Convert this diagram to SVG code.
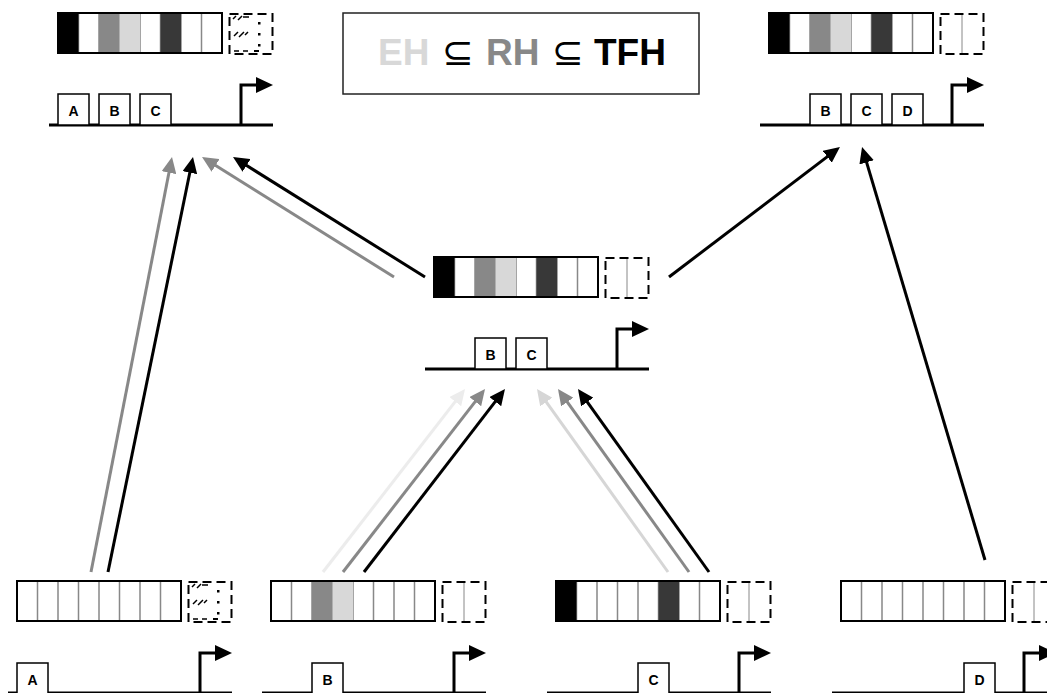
<svg xmlns="http://www.w3.org/2000/svg" xmlns:xlink="http://www.w3.org/1999/xlink" width="1047" height="693" viewBox="0 0 1047 693">
  <style>
    .bg { fill: #fff; }
    .divider { stroke: #888; stroke-width: 1.5; }
    .bar-outline { fill: none; stroke: #000; stroke-width: 2; }
    .dash { fill: #fff; stroke: #000; stroke-width: 2; stroke-dasharray: 9 5; }
    .dash-mid { stroke: #888; stroke-width: 1; }
    .hatch { stroke: #000; stroke-width: 1.5; fill: none; }
    .dna { stroke: #000; stroke-width: 3; fill: none; }
    .prom { stroke: #000; stroke-width: 3; fill: none; }
    .gene rect { fill: #fff; stroke: #000; stroke-width: 1.5; }
    .gene text { font-family: "Liberation Sans", Arial, sans-serif; font-weight: bold; font-size: 14px; text-anchor: middle; fill: #000; }
    .k { fill: #000; } .g { fill: #888; } .l { fill: #d8d8d8; } .d { fill: #383838; }
    .conn line { stroke-width: 3; fill: none; }
    .title-box { fill: #fff; stroke: #222; stroke-width: 1.5; }
    .title { font-family: "Liberation Sans", Arial, sans-serif; font-weight: bold; font-size: 37px; }
    .subset { font-family: "DejaVu Sans", sans-serif; font-weight: normal; font-size: 38px; fill: #000; }
  </style>
  <defs>
    <!-- arrowheads, one per stroke colour -->
    <marker id="ah-k" viewBox="0 0 16 15" markerWidth="16" markerHeight="15" markerUnits="userSpaceOnUse" refX="6" refY="7.5" orient="auto"><path d="M0,0 L16,7.5 L0,15 z" fill="#000"/></marker>
    <marker id="ah-g" viewBox="0 0 16 15" markerWidth="16" markerHeight="15" markerUnits="userSpaceOnUse" refX="6" refY="7.5" orient="auto"><path d="M0,0 L16,7.5 L0,15 z" fill="#888"/></marker>
    <marker id="ah-l" viewBox="0 0 16 15" markerWidth="16" markerHeight="15" markerUnits="userSpaceOnUse" refX="6" refY="7.5" orient="auto"><path d="M0,0 L16,7.5 L0,15 z" fill="#d6d6d6"/></marker>
    <marker id="ah-xl" viewBox="0 0 16 15" markerWidth="16" markerHeight="15" markerUnits="userSpaceOnUse" refX="6" refY="7.5" orient="auto"><path d="M0,0 L16,7.5 L0,15 z" fill="#ececec"/></marker>

    <!-- eight-cell bar: white base with grey cell dividers -->
    <g id="barBase">
      <rect class="bg" x="0" y="0" width="164" height="40"/>
      <path class="divider" d="M20.5,0V40M41,0V40M61.5,0V40M82,0V40M102.5,0V40M123,0V40M143.5,0V40"/>
    </g>
    <!-- bar outline, DNA line and promoter arrow -->
    <g id="frame">
      <rect class="bar-outline" x="0" y="0" width="164" height="40"/>
      <path class="dna" d="M-9,112H215"/>
      <path class="prom" d="M183,112V72H199"/>
      <path d="M198,64L215,72L198,80z" fill="#000"/>
    </g>
    <!-- empty dashed slot -->
    <g id="slot">
      <rect class="dash" x="171.5" y="1" width="43" height="40"/>
      <path class="dash-mid" d="M193,2V40"/>
    </g>
    <!-- hatched dashed slot -->
    <g id="slotHatch">
      <rect class="dash" x="171.5" y="1" width="43" height="40"/>
      <path class="hatch" d="M175,6l3,-3M180,7l4,-4M185,4h6M176,23l4,-4M181,24l5,-5M187,22l3,-3M176,38h5M185,38h5"/>
      <rect x="200" y="9" width="2.5" height="2.5" fill="#000"/>
      <rect x="200" y="20" width="2.5" height="2.5" fill="#000"/>
      <rect x="200" y="31" width="2.5" height="2.5" fill="#000"/>
      <rect x="196" y="37" width="5" height="2" fill="#000"/>
    </g>
  </defs>

  <!-- legend -->
  <g id="legend">
    <rect class="title-box" x="343" y="13" width="356" height="81"/>
    <text class="title" y="65"><tspan x="378" fill="#d8d8d8">EH</tspan><tspan class="subset" x="442">⊆</tspan><tspan x="486" fill="#888">RH</tspan><tspan class="subset" x="552">⊆</tspan><tspan x="594" fill="#000">TFH</tspan></text>
  </g>

  <!-- connectors -->
  <g id="connectors" class="conn">
    <line x1="91" y1="572" x2="170.1" y2="166.8" stroke="#888" marker-end="url(#ah-g)"/>
    <line x1="108" y1="572" x2="191" y2="166.8" stroke="#000" marker-end="url(#ah-k)"/>
    <line x1="394" y1="277" x2="210.5" y2="162.3" stroke="#888" marker-end="url(#ah-g)"/>
    <line x1="425" y1="277" x2="241.5" y2="162.3" stroke="#000" marker-end="url(#ah-k)"/>
    <line x1="669" y1="277" x2="832" y2="153.1" stroke="#000" marker-end="url(#ah-k)"/>
    <line x1="985" y1="560" x2="864.9" y2="156.6" stroke="#000" marker-end="url(#ah-k)"/>
    <line x1="323" y1="572" x2="458.9" y2="396.9" stroke="#ececec" marker-end="url(#ah-xl)"/>
    <line x1="343" y1="572" x2="478.9" y2="396.9" stroke="#888" marker-end="url(#ah-g)"/>
    <line x1="364" y1="572" x2="498.9" y2="396.9" stroke="#000" marker-end="url(#ah-k)"/>
    <line x1="668" y1="572" x2="542.8" y2="397.1" stroke="#d6d6d6" marker-end="url(#ah-l)"/>
    <line x1="689" y1="572" x2="563.8" y2="397.1" stroke="#888" marker-end="url(#ah-g)"/>
    <line x1="709" y1="572" x2="583.8" y2="397.1" stroke="#000" marker-end="url(#ah-k)"/>
  </g>

  <!-- top left: A B C -->
  <g id="node-abc" transform="translate(58,13)">
    <use xlink:href="#barBase"/>
    <rect class="k" x="0" y="0" width="20.5" height="40"/>
    <rect class="g" x="41" y="0" width="20.5" height="40"/>
    <rect class="l" x="61.5" y="0" width="20.5" height="40"/>
    <rect class="d" x="102.5" y="0" width="20.5" height="40"/>
    <use xlink:href="#frame"/>
    <use xlink:href="#slotHatch"/>
    <g class="gene"><rect x="0" y="81" width="31" height="31"/><text x="15.5" y="103">A</text></g>
    <g class="gene"><rect x="41" y="81" width="31" height="31"/><text x="56.5" y="103">B</text></g>
    <g class="gene"><rect x="82" y="81" width="31" height="31"/><text x="97.5" y="103">C</text></g>
  </g>

  <!-- top right: B C D -->
  <g id="node-bcd" transform="translate(769,13)">
    <use xlink:href="#barBase"/>
    <rect class="k" x="0" y="0" width="20.5" height="40"/>
    <rect class="g" x="41" y="0" width="20.5" height="40"/>
    <rect class="l" x="61.5" y="0" width="20.5" height="40"/>
    <rect class="d" x="102.5" y="0" width="20.5" height="40"/>
    <use xlink:href="#frame"/>
    <use xlink:href="#slot"/>
    <g class="gene"><rect x="41" y="81" width="31" height="31"/><text x="56.5" y="103">B</text></g>
    <g class="gene"><rect x="82" y="81" width="31" height="31"/><text x="97.5" y="103">C</text></g>
    <g class="gene"><rect x="123" y="81" width="31" height="31"/><text x="138.5" y="103">D</text></g>
  </g>

  <!-- middle: B C -->
  <g id="node-bc" transform="translate(434,257)">
    <use xlink:href="#barBase"/>
    <rect class="k" x="0" y="0" width="20.5" height="40"/>
    <rect class="g" x="41" y="0" width="20.5" height="40"/>
    <rect class="l" x="61.5" y="0" width="20.5" height="40"/>
    <rect class="d" x="102.5" y="0" width="20.5" height="40"/>
    <use xlink:href="#frame"/>
    <use xlink:href="#slot"/>
    <g class="gene"><rect x="41" y="81" width="31" height="31"/><text x="56.5" y="103">B</text></g>
    <g class="gene"><rect x="82" y="81" width="31" height="31"/><text x="97.5" y="103">C</text></g>
  </g>

  <!-- bottom: A -->
  <g id="node-a" transform="translate(17,581)">
    <use xlink:href="#barBase"/>
    <use xlink:href="#frame"/>
    <use xlink:href="#slotHatch"/>
    <g class="gene"><rect x="0" y="82" width="31" height="31"/><text x="15.5" y="104">A</text></g>
  </g>

  <!-- bottom: B -->
  <g id="node-b" transform="translate(271,581)">
    <use xlink:href="#barBase"/>
    <rect class="g" x="41" y="0" width="20.5" height="40"/>
    <rect class="l" x="61.5" y="0" width="20.5" height="40"/>
    <use xlink:href="#frame"/>
    <use xlink:href="#slot"/>
    <g class="gene"><rect x="41" y="82" width="31" height="31"/><text x="56.5" y="104">B</text></g>
  </g>

  <!-- bottom: C -->
  <g id="node-c" transform="translate(556,581)">
    <use xlink:href="#barBase"/>
    <rect class="k" x="0" y="0" width="20.5" height="40"/>
    <rect class="d" x="102.5" y="0" width="20.5" height="40"/>
    <use xlink:href="#frame"/>
    <use xlink:href="#slot"/>
    <g class="gene"><rect x="82" y="82" width="31" height="31"/><text x="97.5" y="104">C</text></g>
  </g>

  <!-- bottom: D -->
  <g id="node-d" transform="translate(841,581)">
    <use xlink:href="#barBase"/>
    <use xlink:href="#frame"/>
    <use xlink:href="#slot"/>
    <g class="gene"><rect x="123" y="82" width="31" height="31"/><text x="138.5" y="104">D</text></g>
  </g>
</svg>
